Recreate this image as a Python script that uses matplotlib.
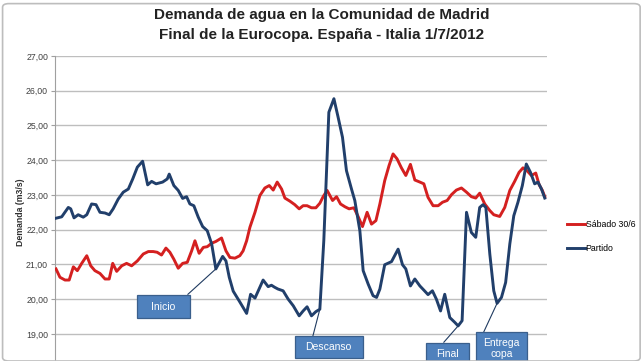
import matplotlib.pyplot as plt
from matplotlib.patches import FancyBboxPatch, Rectangle

plt.rcParams['font.family'] = ['Liberation Sans', 'DejaVu Sans']

# minutes from start of the window (19:30 approx.) and demand in m3/s
t_sabado = [0, 1.8, 4.1, 6, 7.9, 9.7, 11.7, 14, 15.8, 17.7, 20, 22.3, 24.2, 25.8, 27.6,
            29.9, 32.1, 34.4, 37, 39.7, 42, 44.2, 46, 48, 50, 51.8, 53.6, 55.6, 57.6,
            59.7, 61.7, 63.2, 65.1, 67, 68.8, 70.8, 72.7, 75.3, 77.3, 79.1, 81.4, 83.6,
            85.1, 86.7, 88.2, 90.5, 92.7, 95, 97, 98.8, 100.6, 102.6, 104.1, 106.4,
            108.6, 110.6, 112.4, 114.2, 116.2, 118.2, 120, 121.5, 123.3, 125.8, 127.6,
            129.4, 131.4, 133.3, 135.5, 137.4, 139.4, 141.5, 143.5, 145.5, 147.3, 149.5,
            151.5, 153.3, 155.1, 157.1, 159.1, 161.2, 163.2, 165.5, 167.3, 169.2, 171.5,
            173.8, 175.8, 177.9, 179.9, 182.1, 184.4, 186.7, 188.9, 190.9, 192.7, 195,
            197.3, 199.1, 201.8, 204.1, 206.4, 208.6, 210.6, 212.4, 214.2, 216.2, 218.2,
            219.7, 221.2, 222.3]
sabado = [20.87, 20.63, 20.55, 20.55, 20.93, 20.82, 21.03, 21.25, 20.96, 20.82, 20.74,
          20.58, 20.58, 21.03, 20.80, 20.96, 21.03, 20.96, 21.10, 21.30, 21.37, 21.37,
          21.35, 21.27, 21.47, 21.35, 21.15, 20.89, 21.03, 21.06, 21.39, 21.68, 21.32,
          21.49, 21.51, 21.61, 21.66, 21.76, 21.39, 21.20, 21.18, 21.25, 21.39, 21.68,
          22.07, 22.50, 22.98, 23.20, 23.27, 23.14, 23.37, 23.17, 22.91, 22.82, 22.72,
          22.60, 22.69, 22.69, 22.63, 22.63, 22.76, 22.95, 23.13, 22.84, 22.95, 22.74,
          22.66, 22.60, 22.63, 22.38, 22.09, 22.50, 22.16, 22.26, 22.74, 23.41, 23.85,
          24.18, 24.04, 23.78, 23.56, 23.88, 23.43, 23.37, 23.32, 22.93, 22.69, 22.69,
          22.79, 22.84, 23.01, 23.14, 23.20, 23.08, 22.95, 22.91, 23.05, 22.74, 22.55,
          22.43, 22.38, 22.64, 23.13, 23.39, 23.65, 23.78, 23.70, 23.56, 23.63, 23.30,
          23.13, 22.95]

t_partido = [0, 2.6, 5.6, 6.7, 8.2, 10.1, 12.4, 14, 16.2, 18.2, 20, 22.3, 24.2, 26, 28.3,
             30.6, 32.9, 34.9, 37, 39.4, 41.7, 43.5, 45.5, 48.5, 50.6, 51.5, 53.6, 55.6,
             57.6, 59.4, 60.9, 62.7, 64.7, 66.7, 68.8, 70.8, 72.7, 75.8, 77.3, 78.8, 80.6,
             83.6, 86.7, 88.5, 90.5, 94.2, 96.5, 98, 99.5, 101, 103.3, 105.6, 107.9,
             110.6, 112.4, 114.2, 116.2, 118.2, 120, 121.8, 124.1, 126.4, 128.3, 130.3,
             132.1, 134.4, 135.9, 138.2, 139.7, 142, 144.2, 145.8, 147.3, 149.5, 152.6,
             155.6, 157.6, 159.1, 161.2, 163.2, 165.5, 167.3, 169.2, 171.2, 173, 174.9,
             176.8, 179.1, 181.4, 182.9, 184.7, 186.7, 188.9, 190.9, 192.7, 194.2, 195.5,
             197.3, 199.1, 200.6, 202.6, 204.5, 206.4, 208.2, 210.1, 212.1, 213.9, 215.8,
             217.7, 219.2, 220.8, 222.3]
partido = [22.33, 22.37, 22.64, 22.60, 22.34, 22.43, 22.36, 22.43, 22.74, 22.72, 22.50,
           22.48, 22.43, 22.60, 22.88, 23.08, 23.17, 23.46, 23.80, 23.97, 23.29, 23.39,
           23.32, 23.37, 23.46, 23.60, 23.27, 23.13, 22.90, 22.95, 22.74, 22.69, 22.36,
           22.09, 21.97, 21.59, 20.87, 21.23, 21.10, 20.63, 20.23, 19.92, 19.59, 20.14,
           20.03, 20.55, 20.36, 20.40, 20.34, 20.29, 20.24, 20.00, 19.81, 19.52, 19.66,
           19.78, 19.52, 19.64, 19.71, 21.68, 25.38, 25.77, 25.24, 24.66, 23.70, 23.17,
           22.84, 21.97, 20.82, 20.43, 20.10, 20.05, 20.29, 20.99, 21.08, 21.44, 20.99,
           20.87, 20.38, 20.58, 20.38, 20.26, 20.13, 20.24, 20.00, 19.66, 20.14, 19.47,
           19.33, 19.23, 19.38, 22.50, 21.92, 21.78, 22.64, 22.72, 22.64, 21.30, 20.24,
           19.88, 20.05, 20.48, 21.59, 22.40, 22.79, 23.27, 23.89, 23.65, 23.32, 23.37,
           23.17, 22.91]

yticks = [19, 20, 21, 22, 23, 24, 25, 26, 27]

# annotations: label, marked point, box (t0, t1, v_bottom, v_top), leader anchor
eventos = ["Inicio", "Descanso", "Final", "Entrega\ncopa"]
evento_punto = [(72.7, 20.87), (120, 19.71), (182.9, 19.23), (200.6, 19.88)]
evento_caja = [(36.8, 60.9, 19.45, 20.11), (108.6, 139.5, 18.30, 18.93),
               (168.2, 187.7, 18.10, 18.73), (190.9, 214.1, 18.10, 19.05)]
evento_ancla = [(60.0, 20.14), (116.8, 18.93), (176.4, 18.76), (194.5, 19.05)]

fig = plt.figure(figsize=(6.44, 3.61), dpi=100)
ax = fig.add_axes([0.0854, -0.0211, 0.7636, 0.866])

red = "#D42020"
blue = "#213F6B"
ax.plot(t_sabado, sabado, color=red, lw=2.1, label="Sábado 30/6", zorder=3)
ax.plot(t_partido, partido, color=blue, lw=2.1, label="Partido", zorder=4)

ax.set_xlim(-0.45, 223.2)
ax.set_ylim(18, 27)
ax.set_yticks(yticks)
ax.set_yticklabels([f"{v:.2f}".replace(".", ",") for v in yticks], fontsize=6.3, color="#404040")
ax.set_xticks([])
ax.grid(axis="y", color="#BEBEBE", lw=1)
ax.set_axisbelow(True)
for s in ["top", "right", "bottom"]:
    ax.spines[s].set_visible(False)
ax.spines["left"].set_color("#A0A0A0")
ax.tick_params(axis="y", length=3, color="#A0A0A0", pad=2)
ax.set_ylabel("Demanda (m3/s)", fontsize=6.3, fontweight="bold", color="#303030", labelpad=1)

for lab, p, c, a in zip(eventos, evento_punto, evento_caja, evento_ancla):
    ax.plot([a[0], p[0]], [a[1], p[1]], color="#1F3A60", lw=0.8, zorder=5)
    ax.add_patch(Rectangle((c[0], c[2]), c[1] - c[0], c[3] - c[2], fc="#4F81BD",
                           ec="#3A5F8C", lw=0.9, zorder=6, clip_on=False))
    ax.text((c[0] + c[1]) / 2, (c[2] + c[3]) / 2, lab, ha="center", va="center",
            fontsize=7.5, color="white", zorder=7, linespacing=1.15)

fig.legend(loc="center left", bbox_to_anchor=(0.868, 0.345), frameon=False,
           fontsize=6.3, handlelength=2.1, handletextpad=0.05, labelspacing=1.7)

fig.text(0.5, 0.958, "Demanda de agua en la Comunidad de Madrid", ha="center", va="center",
         fontsize=11, fontweight="bold", color="#222222")
fig.text(0.5, 0.903, "Final de la Eurocopa. España - Italia 1/7/2012", ha="center",
         va="center", fontsize=11, fontweight="bold", color="#222222")

frame = FancyBboxPatch((0.004, 0.0), 0.99, 0.99, boxstyle="round,pad=0,rounding_size=0.01",
                       transform=fig.transFigure, fill=False, ec="#BDBDBD", lw=1.2)
fig.patches.append(frame)

fig.savefig("out.png", dpi=100)
